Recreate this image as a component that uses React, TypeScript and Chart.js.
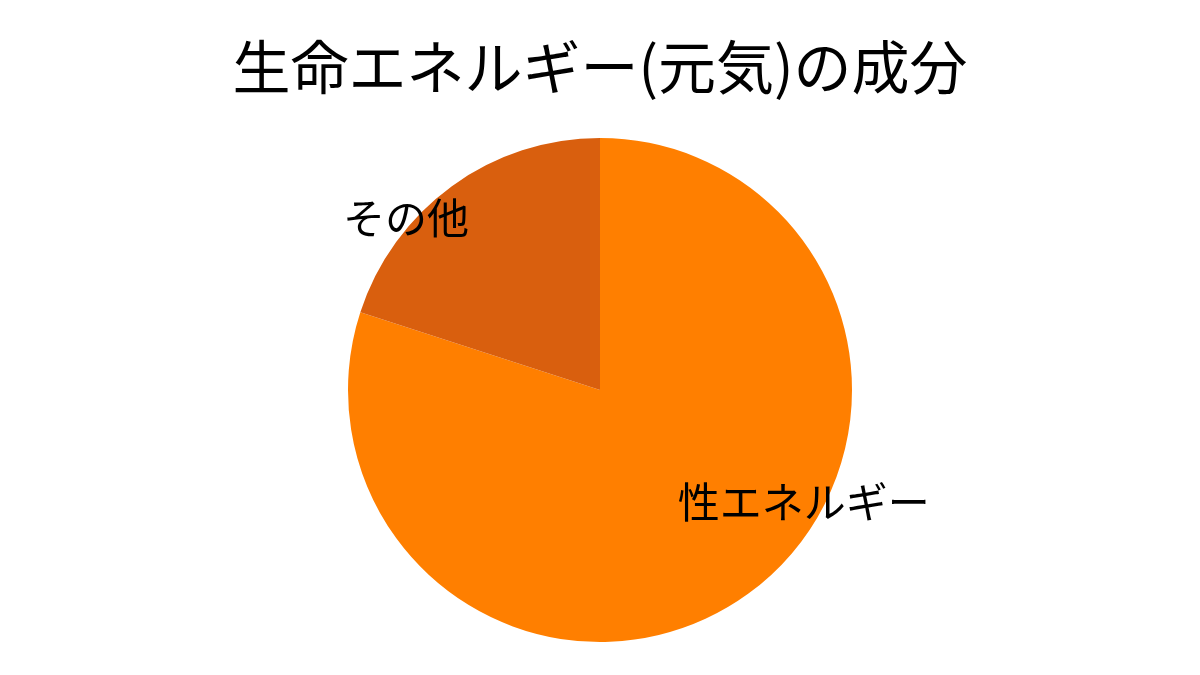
import { useEffect, useRef } from "react";
import { Chart, registerables } from "chart.js";

Chart.register(...registerables);

const titleText = "生命エネルギー(元気)の成分";
const labels = ["性エネルギー", "その他"];
const values = [80, 20];
const colors = ["#FF7F00", "#D95F0E"];

// where each slice label sits: fraction along the slice's angle and of the radius
const labelAngleFrac = [0.4125, 0.328];
const labelRadiusFrac = [0.923, 1.03];

const FONT = "'Noto Sans CJK JP', 'Noto Sans', sans-serif";

const sliceLabels = {
  id: "sliceLabels",
  afterDatasetsDraw(chart: Chart) {
    const { ctx } = chart;
    const meta = chart.getDatasetMeta(0);
    ctx.save();
    ctx.font = `42px ${FONT}`;
    ctx.fillStyle = "#000";
    ctx.textAlign = "center";
    ctx.textBaseline = "middle";
    meta.data.forEach((el: any, i: number) => {
      const { x, y, startAngle, endAngle, outerRadius } = el.getProps(
        ["x", "y", "startAngle", "endAngle", "outerRadius"],
        true
      );
      const a = startAngle + (endAngle - startAngle) * labelAngleFrac[i];
      const r = outerRadius * labelRadiusFrac[i];
      ctx.fillText(String(chart.data.labels?.[i] ?? ""), x + Math.cos(a) * r, y + Math.sin(a) * r);
    });
    ctx.restore();
  },
};

const App: React.FC = () => {
  const canvasRef = useRef<HTMLCanvasElement | null>(null);

  useEffect(() => {
    document.body.style.margin = "0";
    const canvas = canvasRef.current;
    let chart: Chart | null = null;

    if (canvas) {
      Chart.getChart(canvas)?.destroy();
      chart = new Chart(canvas, {
        type: "pie",
        data: {
          labels: labels,
          datasets: [
            {
              data: values,
              backgroundColor: colors,
              borderWidth: 0,
            },
          ],
        },
        options: {
          animation: false,
          responsive: false,
          layout: { padding: { top: 0, bottom: 33, left: 0, right: 0 } },
          plugins: {
            legend: { display: false },
            tooltip: { enabled: false },
            title: {
              display: true,
              text: titleText,
              color: "#000",
              font: { family: FONT, size: 58, weight: "normal", lineHeight: 1.2 },
              padding: { top: 32, bottom: 36.4 },
            },
          },
        },
        plugins: [sliceLabels],
      });
    }

    return () => {
      if (chart) chart.destroy();
    };
  }, []);

  return (
    <div style={{ width: 1200, height: 675, background: "#fff" }}>
      <canvas ref={canvasRef} width={1200} height={675}></canvas>
    </div>
  );
};

export default App;
